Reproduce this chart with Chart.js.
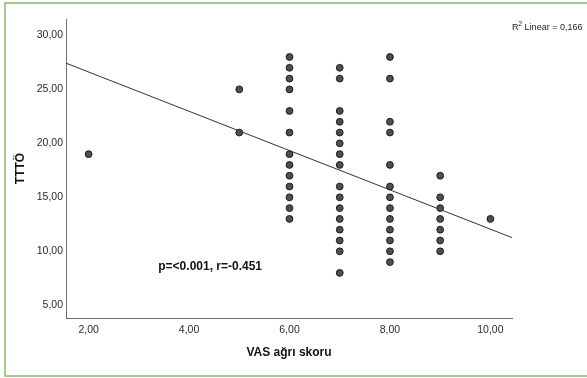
<!DOCTYPE html>
<html>
<head>
<meta charset="utf-8">
<script src="https://cdn.jsdelivr.net/npm/chart.js@4/dist/chart.umd.min.js"></script>
<style>
  html, body { margin: 0; padding: 0; background: #ffffff; }
  #wrap { width: 587px; height: 378px; position: relative; }
</style>
</head>
<body>
<div id="wrap"><canvas id="c" width="587" height="378"></canvas></div>
<script>
// VAS pain score (x) for each patient
const vasScore = [
  2,
  5, 5,
  6, 6, 6, 6, 6, 6, 6, 6, 6, 6, 6, 6, 6,
  7, 7, 7, 7, 7, 7, 7, 7, 7, 7, 7, 7, 7, 7, 7, 7,
  8, 8, 8, 8, 8, 8, 8, 8, 8, 8, 8, 8, 8,
  9, 9, 9, 9, 9, 9, 9,
  10
];
// TTTÖ value (y) for each patient
const tttoValue = [
  19,
  25, 21,
  28, 27, 26, 25, 23, 21, 19, 18, 17, 16, 15, 14, 13,
  27, 26, 23, 22, 21, 20, 19, 18, 16, 15, 14, 13, 12, 11, 10, 8,
  28, 26, 22, 21, 18, 16, 15, 14, 13, 12, 11, 10, 9,
  17, 15, 14, 13, 12, 11, 10,
  13
];
// Fit line
const fitIntercept = 30.25;
const fitSlope = -1.82;
const xRange = [1.55, 10.43];
const yRange = [3.82, 31.52];
const xTicks = [2, 4, 6, 8, 10];
const yTicks = [5, 10, 15, 20, 25, 30];
const statsText = 'p=<0.001, r=-0.451';
const statsPos = { x: 4.42, y: 8.55 };
const r2Value = '0,166';
const xTitle = 'VAS ağrı skoru';
const yTitle = 'TTTÖ';

const points = vasScore.map((x, i) => ({ x: x, y: tttoValue[i] }));
const fitPoints = xRange.map(x => ({ x: x, y: fitIntercept + fitSlope * x }));

const fmt = v => Number(v).toFixed(2).replace('.', ',');
const FONT = '"Liberation Sans", Arial, sans-serif';

const decor = {
  id: 'decor',
  beforeDraw(chart) {
    const ctx = chart.ctx;
    ctx.save();
    ctx.strokeStyle = '#a6c98e';
    ctx.lineWidth = 2;
    ctx.strokeRect(5, 3, 600, 373);
    ctx.restore();
  },
  afterDraw(chart) {
    const ctx = chart.ctx;
    const xs = chart.scales.x, ys = chart.scales.y;
    ctx.save();
    ctx.fillStyle = '#111';
    ctx.font = 'bold 12px ' + FONT;
    ctx.textAlign = 'center';
    ctx.textBaseline = 'middle';
    ctx.fillText(statsText, xs.getPixelForValue(statsPos.x), ys.getPixelForValue(statsPos.y));

    // R² Linear label
    ctx.fillStyle = '#222';
    ctx.textBaseline = 'alphabetic';
    ctx.textAlign = 'left';
    let x0 = 512, y0 = 29.5;
    ctx.font = '9px ' + FONT;
    ctx.fillText('R', x0, y0);
    x0 += ctx.measureText('R').width;
    ctx.font = '6.5px ' + FONT;
    ctx.fillText('2', x0, y0 - 4);
    x0 += ctx.measureText('2').width;
    ctx.font = '9px ' + FONT;
    ctx.fillText(' Linear = ' + r2Value, x0, y0);
    ctx.restore();
  }
};

new Chart(document.getElementById('c'), {
  type: 'scatter',
  data: {
    datasets: [
      {
        label: 'TTTÖ',
        data: points,
        pointRadius: 3.4,
        pointHoverRadius: 3.4,
        pointBackgroundColor: '#4f4f4f',
        pointBorderColor: '#1a1a1a',
        pointBorderWidth: 1,
        order: 1
      },
      {
        type: 'line',
        label: 'Fit',
        data: fitPoints,
        borderColor: '#333333',
        borderWidth: 1,
        pointRadius: 0,
        fill: false,
        showLine: true,
        order: 2
      }
    ]
  },
  options: {
    responsive: false,
    animation: false,
    devicePixelRatio: 1,
    layout: { padding: { top: 19, right: 75, bottom: 0, left: 0 } },
    plugins: { legend: { display: false }, tooltip: { enabled: false } },
    scales: {
      x: {
        type: 'linear',
        min: xRange[0],
        max: xRange[1],
        afterBuildTicks: s => { s.ticks = xTicks.map(v => ({ value: v })); },
        afterFit: s => { s.height = 60; },
        grid: { display: false, drawTicks: false },
        border: { display: true, color: '#6f6f6f', width: 1 },
        ticks: { padding: 6, color: '#2a2a2a', font: { family: FONT, size: 10.5 }, callback: v => fmt(v), maxRotation: 0 },
        title: { display: true, text: xTitle, color: '#111', font: { family: FONT, size: 12, weight: 'bold' }, padding: { top: 0, bottom: 18 } }
      },
      y: {
        type: 'linear',
        min: yRange[0],
        max: yRange[1],
        afterBuildTicks: s => { s.ticks = yTicks.map(v => ({ value: v })); },
        afterFit: s => { s.width = 66; },
        grid: { display: false, drawTicks: false },
        border: { display: true, color: '#6f6f6f', width: 1 },
        ticks: { padding: 3, color: '#2a2a2a', font: { family: FONT, size: 10.5 }, callback: v => fmt(v) },
        title: { display: true, text: yTitle, color: '#111', font: { family: FONT, size: 12, weight: 'bold' }, padding: { top: 13, bottom: 0 } }
      }
    }
  },
  plugins: [decor]
});
</script>
</body>
</html>
